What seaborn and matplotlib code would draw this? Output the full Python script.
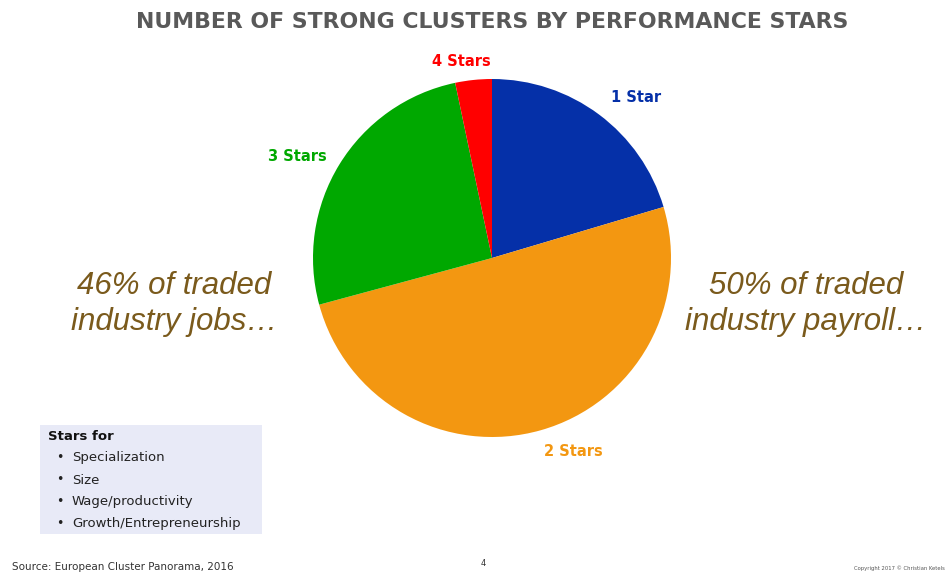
import matplotlib
matplotlib.use("Agg")
import matplotlib.pyplot as plt
import seaborn as sns
from matplotlib.patches import Rectangle

# slice shares (clockwise from 12 o'clock)
stars = ["1 Star", "2 Stars", "3 Stars", "4 Stars"]
shares = [20.4, 50.4, 25.9, 3.3]
slice_colors = ["#0530A8", "#F39711", "#00A800", "#FF0000"]
label_pos = [(636, 98), (573, 452), (297, 156), (461, 62)]

bullets = ["Specialization", "Size", "Wage/productivity", "Growth/Entrepreneurship"]

sns.set_style("white")
sns.set_palette(slice_colors)
plt.rcParams["font.family"] = ["DejaVu Sans"]

W, H = 951, 573
fig = plt.figure(figsize=(W / 100, H / 100), dpi=100)


def fx(x):
    return x / W


def fy(y):
    return 1 - y / H


# pie axes: centre (492, 258), radius ~179 px
cx, cy, r = 492, 258, 179
ax = fig.add_axes([fx(cx - r), fy(cy + r), 2 * r / W, 2 * r / H])
ax.pie(shares, colors=sns.color_palette(slice_colors), startangle=90,
       counterclock=False, radius=1,
       wedgeprops=dict(linewidth=0))
ax.set_xlim(-1, 1)
ax.set_ylim(-1, 1)
ax.axis("off")

for name, col, (x, y) in zip(stars, slice_colors, label_pos):
    fig.text(fx(x), fy(y), name, color=col, fontsize=10.5, fontweight="bold",
             ha="center", va="center")

fig.text(fx(492), fy(22), "NUMBER OF STRONG CLUSTERS BY PERFORMANCE STARS",
         color="#595959", fontsize=15.8, fontweight="bold",
         ha="center", va="center")

brown = "#7A5A1C"
for x, txt in [(174, "46% of traded\nindustry jobs…"),
               (806, "50% of traded\nindustry payroll…")]:
    fig.text(fx(x), fy(304), txt, color=brown, fontsize=22.5, style="italic",
             family="Liberation Sans", ha="center", va="center",
             linespacing=1.3)

# "Stars for" box
fig.patches.append(Rectangle((fx(40), fy(534)), (262 - 40) / W, (534 - 425) / H,
                             transform=fig.transFigure, facecolor="#E8EAF7",
                             edgecolor="none", zorder=0))
fig.text(fx(48), fy(437), "Stars for", fontsize=9.5, fontweight="bold",
         color="#111111", va="center")
for i, b in enumerate(bullets):
    y = 458 + i * 22
    fig.text(fx(56), fy(y), "•", fontsize=9, color="#222222", va="center")
    fig.text(fx(72), fy(y), b, fontsize=9.5, color="#222222", va="center")

fig.text(fx(12), fy(567), "Source: European Cluster Panorama, 2016",
         fontsize=7.5, color="#333333", va="center")
fig.text(fx(483), fy(564), "4", fontsize=6, color="#333333", ha="center",
         va="center")
fig.text(fx(945), fy(568), "Copyright 2017 © Christian Ketels", fontsize=3.8,
         color="#555555", ha="right", va="center")

fig.savefig("out.png", dpi=100)
